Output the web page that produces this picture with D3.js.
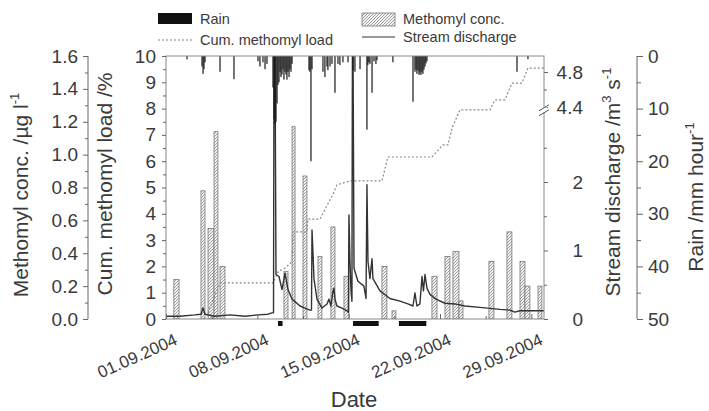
<!DOCTYPE html>
<html>
<head>
<meta charset="utf-8">
<script src="https://cdn.jsdelivr.net/npm/d3@7"></script>
<style>
  body { margin: 0; background: #fff; }
  text { font-family: "Liberation Sans", Arial, sans-serif; fill: #3a3a3a; }
</style>
</head>
<body>
<div id="chart"></div>
<script>
// sample periods: [start day, end day, methomyl conc µg/l]
var concSamples = [
  [1.60, 2.00, 0.24], [3.68, 3.99, 0.78], [4.22, 4.68, 0.55], [4.68, 4.98, 1.14],
  [5.14, 5.52, 0.32], [10.04, 10.35, 0.29], [10.66, 10.89, 1.17], [11.50, 11.80, 0.87],
  [12.65, 12.95, 0.38], [13.64, 13.95, 0.56], [14.64, 15.02, 0.26], [17.55, 17.93, 0.32],
  [18.32, 18.62, 0.05], [21.38, 21.77, 0.26], [22.38, 22.76, 0.38], [22.99, 23.45, 0.41],
  [23.45, 23.76, 0.11], [25.75, 26.13, 0.35], [27.13, 27.51, 0.53], [28.13, 28.51, 0.35],
  [28.51, 28.89, 0.20], [29.51, 29.81, 0.20]
];
// cumulative methomyl load [day, %]
var cumLoad = [
  [4.22, 0.23], [5.14, 1.37], [9.20, 1.37], [9.58, 1.79], [10.12, 1.94], [10.66, 2.17],
  [10.73, 3.31], [11.80, 3.31], [11.88, 3.80], [12.80, 3.80], [13.80, 4.75], [14.10, 5.10],
  [15.10, 5.25], [17.55, 5.25], [18.01, 6.16], [21.38, 6.16], [22.23, 6.62], [22.61, 6.62],
  [22.92, 7.26], [23.53, 7.95], [25.83, 7.95], [26.21, 8.33], [26.98, 8.33], [27.51, 8.97],
  [28.28, 8.97], [28.74, 9.54], [29.97, 9.54]
];
// stream discharge [day, m3/s]
var discharge = [
  [1.00, 0.04], [2.07, 0.04], [3.22, 0.06], [3.68, 0.07], [3.84, 0.16], [3.99, 0.07],
  [4.75, 0.04], [5.90, 0.06], [7.05, 0.04], [8.05, 0.06], [8.82, 0.07], [9.12, 0.09],
  [9.24, 0.09], [9.28, 5.2], [9.35, 5.2], [9.43, 0.65], [9.66, 0.62], [9.89, 0.43],
  [10.12, 0.67], [10.35, 0.43], [10.66, 0.29], [11.27, 0.19], [11.65, 0.16], [12.03, 0.13],
  [12.15, 0.13], [12.19, 1.30], [12.26, 0.99], [12.34, 0.59], [12.57, 0.29], [12.95, 0.16],
  [13.34, 0.22], [13.49, 0.29], [13.64, 0.19], [13.80, 0.41], [13.87, 0.45], [13.95, 0.29],
  [14.10, 0.19], [14.49, 0.16], [14.87, 0.12], [14.98, 0.10], [15.02, 1.52], [15.10, 0.84],
  [15.18, 0.41], [15.25, 0.26], [15.29, 5.2], [15.33, 5.2], [15.41, 0.74], [15.71, 0.55],
  [16.17, 0.48], [16.33, 0.30], [16.40, 1.96], [16.48, 0.84], [16.63, 0.59], [16.79, 0.88],
  [16.86, 0.59], [17.40, 0.41], [18.16, 0.30], [18.93, 0.26], [19.54, 0.22], [19.93, 0.19],
  [20.08, 0.38], [20.23, 0.19], [20.46, 0.22], [20.62, 0.62], [20.73, 0.41], [20.85, 0.65],
  [21.00, 0.45], [21.23, 0.36], [21.69, 0.29], [22.38, 0.23], [23.15, 0.22], [23.91, 0.19],
  [25.06, 0.17], [26.59, 0.14], [27.36, 0.13], [27.74, 0.10], [28.13, 0.12], [28.89, 0.12],
  [29.97, 0.12]
];
// hourly rain [day, mm/hour]
var rain = [
  [2.61, 0.6], [3.76, 2.0], [3.84, 3.4], [3.91, 2.5], [3.99, 1.2], [5.14, 3.0], [6.21, 4.4],
  [8.05, 1.0], [8.20, 2.0], [8.43, 1.2], [8.59, 2.5], [8.74, 1.5],
  [9.20, 6], [9.28, 12], [9.35, 13], [9.43, 12.5], [9.51, 9], [9.58, 5.5], [9.66, 5],
  [9.74, 3], [9.81, 4], [9.89, 3.5], [9.97, 2.5], [10.04, 4.5], [10.12, 3], [10.20, 3.5],
  [10.27, 4.5], [10.35, 3], [10.43, 4], [10.50, 2.5], [10.58, 3], [10.66, 1.5],
  [11.96, 2.7], [12.03, 3.0], [12.11, 20], [12.19, 2.5],
  [13.03, 3.0], [13.18, 4.0], [13.34, 2.0], [13.41, 2.7], [13.57, 2.0], [13.72, 1.5],
  [13.95, 7.0], [14.18, 1.5], [14.33, 1.7], [14.56, 1.2], [14.95, 1.2],
  [15.33, 2.7], [15.48, 3.0], [15.87, 2.5],
  [16.40, 14.0], [16.47, 1.7], [16.55, 1.2], [16.63, 1.5], [16.79, 7.0], [16.94, 1.0],
  [17.09, 1.5], [17.17, 0.8], [18.39, 1.2],
  [19.93, 8.7], [20.08, 3.0], [20.16, 2.6], [20.23, 3.4], [20.31, 2.8], [20.39, 3.6],
  [20.46, 3.2], [20.54, 3.6], [20.62, 3.0], [20.69, 3.4], [20.77, 2.6], [20.85, 2.0],
  [20.92, 1.4], [21.00, 1.0], [27.90, 3.0], [28.74, 0.6]
];
// black periods under the date axis [start day, end day]
var gapPeriods = [[9.58, 9.93], [15.33, 17.30], [18.85, 20.95]];

var dateTicks = [1, 8, 15, 22, 29];
var dateMinor = [4.5, 11.5, 18.5, 25.5];
var concTicks = [0, 0.2, 0.4, 0.6, 0.8, 1.0, 1.2, 1.4, 1.6];
var concMinor = [0.1, 0.3, 0.5, 0.7, 0.9, 1.1, 1.3, 1.5];
var cumTicks = [0, 1, 2, 3, 4, 5, 6, 7, 8, 9, 10];
var cumMinor = [0.5, 1.5, 2.5, 3.5, 4.5, 5.5, 6.5, 7.5, 8.5, 9.5];
var qTicks = [0, 1, 2, 4.4, 4.8];
var qMinor = [0.5, 1.5, 2.5, 4.6];
var rainTicks = [0, 10, 20, 30, 40, 50];
var rainMinor = [5, 15, 25, 35, 45];

var width = 709, height = 411;
var plotLeft = 166, plotRight = 544, plotTop = 56, plotBottom = 319;
var axisColor = "#666";

function day(d) { return new Date(Date.UTC(2004, 8, 1) + (d - 1) * 864e5); }

var xScale = d3.scaleUtc().domain([day(1), day(29.97)]).range([plotLeft, plotRight]);
var concScale = d3.scaleLinear().domain([0, 1.6]).range([plotBottom, plotTop]);
var cumScale = d3.scaleLinear().domain([0, 10]).range([plotBottom, plotTop]);
// broken discharge axis: 0-3 below the break, 4.4-5 above it
var qScale = d3.scaleLinear().domain([0, 3, 4.4, 5]).range([plotBottom, 113.5, 107, 54.5]);
var rainScale = d3.scaleLinear().domain([0, 50]).range([plotTop, plotBottom]);

var svg = d3.select("#chart").append("svg")
  .attr("width", width)
  .attr("height", height);

var defs = svg.append("defs");
defs.append("clipPath").attr("id", "plotclip")
  .append("rect")
  .attr("x", plotLeft).attr("y", plotTop)
  .attr("width", plotRight - plotLeft).attr("height", plotBottom - plotTop);
var hatch = defs.append("pattern")
  .attr("id", "hatch")
  .attr("patternUnits", "userSpaceOnUse")
  .attr("width", 3).attr("height", 3);
hatch.append("rect").attr("width", 3).attr("height", 3).attr("fill", "#f4f4f4");
hatch.append("path")
  .attr("d", "M-1,1 l2,-2 M0,3 l3,-3 M2,4 l2,-2")
  .attr("stroke", "#777")
  .attr("stroke-width", 0.7);

var plot = svg.append("g").attr("clip-path", "url(#plotclip)");

// methomyl conc bars
plot.selectAll(".conc")
  .data(concSamples)
  .enter().append("rect")
  .attr("class", "conc")
  .attr("x", function(d) { return xScale(day(d[0])); })
  .attr("width", function(d) { return xScale(day(d[1])) - xScale(day(d[0])); })
  .attr("y", function(d) { return concScale(d[2]); })
  .attr("height", function(d) { return plotBottom - concScale(d[2]); })
  .attr("fill", "url(#hatch)")
  .attr("stroke", "#777")
  .attr("stroke-width", 0.8);

// cumulative load
plot.append("path")
  .datum(cumLoad)
  .attr("fill", "none")
  .attr("stroke", "#888")
  .attr("stroke-width", 1.2)
  .attr("stroke-dasharray", "2,2")
  .attr("d", d3.line()
    .x(function(d) { return xScale(day(d[0])); })
    .y(function(d) { return cumScale(d[1]); }));

// discharge
plot.append("path")
  .datum(discharge)
  .attr("fill", "none")
  .attr("stroke", "#333")
  .attr("stroke-width", 1.4)
  .attr("stroke-linejoin", "round")
  .attr("d", d3.line()
    .x(function(d) { return xScale(day(d[0])); })
    .y(function(d) { return qScale(d[1]); }));

// rain hangs from the top
plot.selectAll(".rain")
  .data(rain)
  .enter().append("rect")
  .attr("class", "rain")
  .attr("x", function(d) { return xScale(day(d[0])) - 0.6; })
  .attr("width", 1.2)
  .attr("y", plotTop)
  .attr("height", function(d) { return rainScale(d[1]) - plotTop; })
  .attr("fill", "#1a1a1a");

// frame
svg.append("rect")
  .attr("x", plotLeft).attr("y", plotTop)
  .attr("width", plotRight - plotLeft).attr("height", plotBottom - plotTop)
  .attr("fill", "none")
  .attr("stroke", "#888")
  .attr("stroke-width", 1);

function styleAxis(g, size) {
  g.select(".domain").remove();
  g.selectAll("line").attr("stroke", axisColor);
  g.selectAll("text").style("font-size", size + "px").style("font-family", null).attr("fill", "#3a3a3a");
}

// date axis
var xAxis = svg.append("g")
  .attr("transform", "translate(0," + plotBottom + ")")
  .call(d3.axisBottom(xScale)
    .tickValues(dateTicks.map(day))
    .tickFormat(d3.utcFormat("%d.%m.%Y"))
    .tickSize(-5));
styleAxis(xAxis, 17);
xAxis.selectAll("text")
  .attr("text-anchor", "end")
  .attr("x", 12).attr("y", 25).attr("dy", 0)
  .attr("transform", "rotate(-24,12,25)");
var xMinor = svg.append("g")
  .attr("transform", "translate(0," + plotBottom + ")")
  .call(d3.axisBottom(xScale).tickValues(dateMinor.map(day)).tickFormat("").tickSize(-3));
styleAxis(xMinor, 10);

svg.selectAll(".gap")
  .data(gapPeriods)
  .enter().append("rect")
  .attr("class", "gap")
  .attr("x", function(d) { return xScale(day(d[0])); })
  .attr("width", function(d) { return xScale(day(d[1])) - xScale(day(d[0])); })
  .attr("y", plotBottom + 2)
  .attr("height", 5)
  .attr("fill", "#111");

// methomyl conc axis (outer left)
var concAxis = svg.append("g")
  .attr("transform", "translate(88,0)")
  .call(d3.axisLeft(concScale).tickValues(concTicks).tickFormat(d3.format(".1f")).tickSize(5).tickPadding(5));
styleAxis(concAxis, 19);
var concMinorAxis = svg.append("g")
  .attr("transform", "translate(88,0)")
  .call(d3.axisLeft(concScale).tickValues(concMinor).tickFormat("").tickSize(3));
styleAxis(concMinorAxis, 10);
svg.append("line")
  .attr("x1", 88).attr("x2", 88).attr("y1", plotTop).attr("y2", plotBottom)
  .attr("stroke", axisColor);

// cum load axis (plot left edge)
var cumAxis = svg.append("g")
  .attr("transform", "translate(" + plotLeft + ",0)")
  .call(d3.axisLeft(cumScale).tickValues(cumTicks).tickSize(4).tickPadding(6));
styleAxis(cumAxis, 19);
var cumMinorAxis = svg.append("g")
  .attr("transform", "translate(" + plotLeft + ",0)")
  .call(d3.axisLeft(cumScale).tickValues(cumMinor).tickFormat("").tickSize(3));
styleAxis(cumMinorAxis, 10);

// discharge axis (plot right edge)
var qAxis = svg.append("g")
  .attr("transform", "translate(" + plotRight + ",0)")
  .call(d3.axisRight(qScale).tickValues(qTicks).tickFormat(d3.format("~g")).tickSize(4));
styleAxis(qAxis, 19);
qAxis.selectAll("text").attr("text-anchor", "end").attr("x", 39);
var qMinorAxis = svg.append("g")
  .attr("transform", "translate(" + plotRight + ",0)")
  .call(d3.axisRight(qScale).tickValues(qMinor).tickFormat("").tickSize(3));
styleAxis(qMinorAxis, 10);

// axis break marks
var breakY = (qScale(3) + qScale(4.4)) / 2;
svg.append("rect")
  .attr("x", plotRight - 3).attr("y", breakY - 3)
  .attr("width", 6).attr("height", 5)
  .attr("fill", "#fff");
[-2.5, 2.5].forEach(function(off) {
  svg.append("line")
    .attr("x1", plotRight - 5).attr("y1", breakY + off + 3)
    .attr("x2", plotRight + 5).attr("y2", breakY + off - 3)
    .attr("stroke", "#555")
    .attr("stroke-width", 1);
});

// rain axis (outer right)
var rainAxis = svg.append("g")
  .attr("transform", "translate(637,0)")
  .call(d3.axisRight(rainScale).tickValues(rainTicks).tickSize(6).tickPadding(5));
styleAxis(rainAxis, 19);
var rainMinorAxis = svg.append("g")
  .attr("transform", "translate(637,0)")
  .call(d3.axisRight(rainScale).tickValues(rainMinor).tickFormat("").tickSize(4));
styleAxis(rainMinorAxis, 10);
svg.append("line")
  .attr("x1", 637).attr("x2", 637).attr("y1", plotTop).attr("y2", plotBottom)
  .attr("stroke", axisColor);

// axis titles
function rotatedTitle(x, y, parts) {
  var t = svg.append("text")
    .attr("transform", "translate(" + x + "," + y + ") rotate(-90)")
    .attr("text-anchor", "middle")
    .style("font-size", "21px");
  parts.forEach(function(p) {
    var s = t.append("tspan").text(p[0]);
    if (p[1]) s.attr("dy", p[1]);
    if (p[2]) s.style("font-size", p[2]);
  });
}
rotatedTitle(28, 195, [["Methomyl conc. /µg l"], ["-1", -9, "13px"]]);
rotatedTitle(112, 184, [["Cum. methomyl load /%"]]);
rotatedTitle(620, 182, [["Stream discharge /m"], ["3", -9, "13px"], [" s", 9], ["-1", -9, "13px"]]);
rotatedTitle(703, 197, [["Rain /mm hour"], ["-1", -9, "13px"]]);

svg.append("text")
  .attr("x", 354).attr("y", 407)
  .attr("text-anchor", "middle")
  .style("font-size", "22px")
  .text("Date");

// legend
svg.append("rect").attr("x", 158).attr("y", 13).attr("width", 34).attr("height", 11).attr("fill", "#111");
svg.append("line").attr("x1", 158).attr("x2", 192).attr("y1", 40).attr("y2", 40)
  .attr("stroke", "#888").attr("stroke-width", 1.2).attr("stroke-dasharray", "2,2");
svg.append("rect").attr("x", 362).attr("y", 13).attr("width", 33).attr("height", 13)
  .attr("fill", "url(#hatch)").attr("stroke", "#777").attr("stroke-width", 0.8);
svg.append("line").attr("x1", 362).attr("x2", 395).attr("y1", 37).attr("y2", 37)
  .attr("stroke", "#777").attr("stroke-width", 1.4);

var legendText = [["Rain", 200, 24], ["Cum. methomyl load", 200, 45], ["Methomyl conc.", 403, 24], ["Stream discharge", 403, 42]];
legendText.forEach(function(d) {
  svg.append("text")
    .attr("x", d[1]).attr("y", d[2])
    .style("font-size", "14.5px")
    .text(d[0]);
});
</script>
</body>
</html>
